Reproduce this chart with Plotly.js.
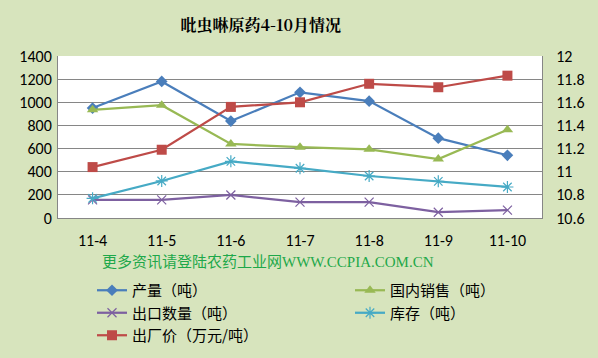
<!DOCTYPE html>
<html>
<head>
<meta charset="utf-8">
<script src="https://cdn.plot.ly/plotly-3.0.1.min.js"></script>
<style>
html,body{margin:0;padding:0;background:#D7E4BD;}
#chart{width:598px;height:358px;}
</style>
</head>
<body>
<div id="chart"></div>
<script>
const months = ['11-4','11-5','11-6','11-7','11-8','11-9','11-10'];
const production = [950, 1180, 838, 1086, 1010, 690, 542];
const domesticSales = [935, 975, 640, 612, 594, 510, 763];
const exportQty = [157, 157, 199, 137, 137, 50, 68];
const inventory = [170, 320, 490, 430, 363, 317, 268];
const factoryPrice = [11.04, 11.19, 11.56, 11.6, 11.76, 11.73, 11.83];

const names = ['产量（吨）','国内销售（吨）','出口数量（吨）','库存（吨）','出厂价（万元/吨）'];

const traces = [
  {x: months, y: production, name: names[0], type: 'scatter', mode: 'lines+markers', legend: 'legend',
   line: {color: '#4A7EBB', width: 2.25}, marker: {symbol: 'diamond', size: 9, color: '#4A7EBB'}},
  {x: months, y: domesticSales, name: names[1], type: 'scatter', mode: 'lines+markers', legend: 'legend2',
   line: {color: '#98B954', width: 2.25}, marker: {symbol: 'triangle-up', size: 10, color: '#98B954'}},
  {x: months, y: exportQty, name: names[2], type: 'scatter', mode: 'lines+markers', legend: 'legend',
   line: {color: '#7D60A0', width: 2.25}, marker: {symbol: 'x-thin-open', size: 9, line: {color: '#7D60A0', width: 1.2}}},
  {x: months, y: inventory, name: names[3], type: 'scatter', mode: 'lines+markers', legend: 'legend2',
   line: {color: '#46AAC5', width: 2.25}, marker: {symbol: 'asterisk-open', size: 10, line: {color: '#46AAC5', width: 1.2}}},
  {x: months, y: factoryPrice, name: names[4], type: 'scatter', mode: 'lines+markers', yaxis: 'y2', legend: 'legend',
   line: {color: '#BE4B48', width: 2.25}, marker: {symbol: 'square', size: 10, color: '#BE4B48'}}
];

const tickFont = {family: 'Carlito, "Liberation Sans", "Noto Sans CJK SC", sans-serif', size: 16, color: '#000'};
const legendFont = {family: '"Noto Sans CJK SC", sans-serif', size: 15, color: '#000'};

const layout = {
  width: 598, height: 358,
  paper_bgcolor: '#D7E4BD', plot_bgcolor: '#FFFFFF',
  margin: {l: 58, r: 56, t: 56, b: 140, autoexpand: false},
  title: {text: '<b>吡虫啉原药4-10月情况</b>', x: 0.436, xanchor: 'center', xref: 'container',
          y: 1 - 25/358, yanchor: 'middle', yref: 'container',
          font: {family: '"Noto Serif CJK SC", "Noto Sans CJK SC", serif', size: 16, color: '#000'}},
  showlegend: true,
  xaxis: {type: 'category', tickfont: tickFont, showline: true, linecolor: '#868686', linewidth: 1, tickangle: 0,
          range: [-0.5, 6.5], autorange: false,
          ticks: '', showgrid: false, zeroline: false, mirror: false, ticklabelstandoff: 8, fixedrange: true},
  yaxis: {range: [0, 1400], dtick: 200, tickfont: tickFont, showline: true, linecolor: '#868686',
          gridcolor: '#868686', gridwidth: 1, zeroline: false, ticks: '', fixedrange: true, ticklabelstandoff: 2},
  yaxis2: {range: [10.6, 12], dtick: 0.2, overlaying: 'y', side: 'right', tickfont: tickFont,
           showline: true, linecolor: '#868686', showgrid: false, zeroline: false, ticks: '', fixedrange: true,
           ticklabelstandoff: 10},
  legend: {xref: 'container', yref: 'container', x: 92/598, xanchor: 'left', y: 1 - 274/358, yanchor: 'top',
           orientation: 'v', bgcolor: 'rgba(0,0,0,0)', font: legendFont, tracegroupgap: 0, traceorder: 'normal'},
  legend2: {xref: 'container', yref: 'container', x: 350/598, xanchor: 'left', y: 1 - 274/358, yanchor: 'top',
           orientation: 'v', bgcolor: 'rgba(0,0,0,0)', font: legendFont, tracegroupgap: 0, traceorder: 'normal'},
  annotations: [{text: '更多资讯请登陆农药工业网WWW.CCPIA.COM.CN', xref: 'paper', yref: 'paper',
                 x: (268 - 58) / 484, y: (218 - 262) / 162, xanchor: 'center', yanchor: 'middle', showarrow: false,
                 font: {family: '"Liberation Serif", "Noto Sans CJK SC", serif', size: 15, color: '#1EA84A'}}]
};

Plotly.newPlot('chart', traces, layout, {displayModeBar: false, staticPlot: true});
</script>
</body>
</html>
